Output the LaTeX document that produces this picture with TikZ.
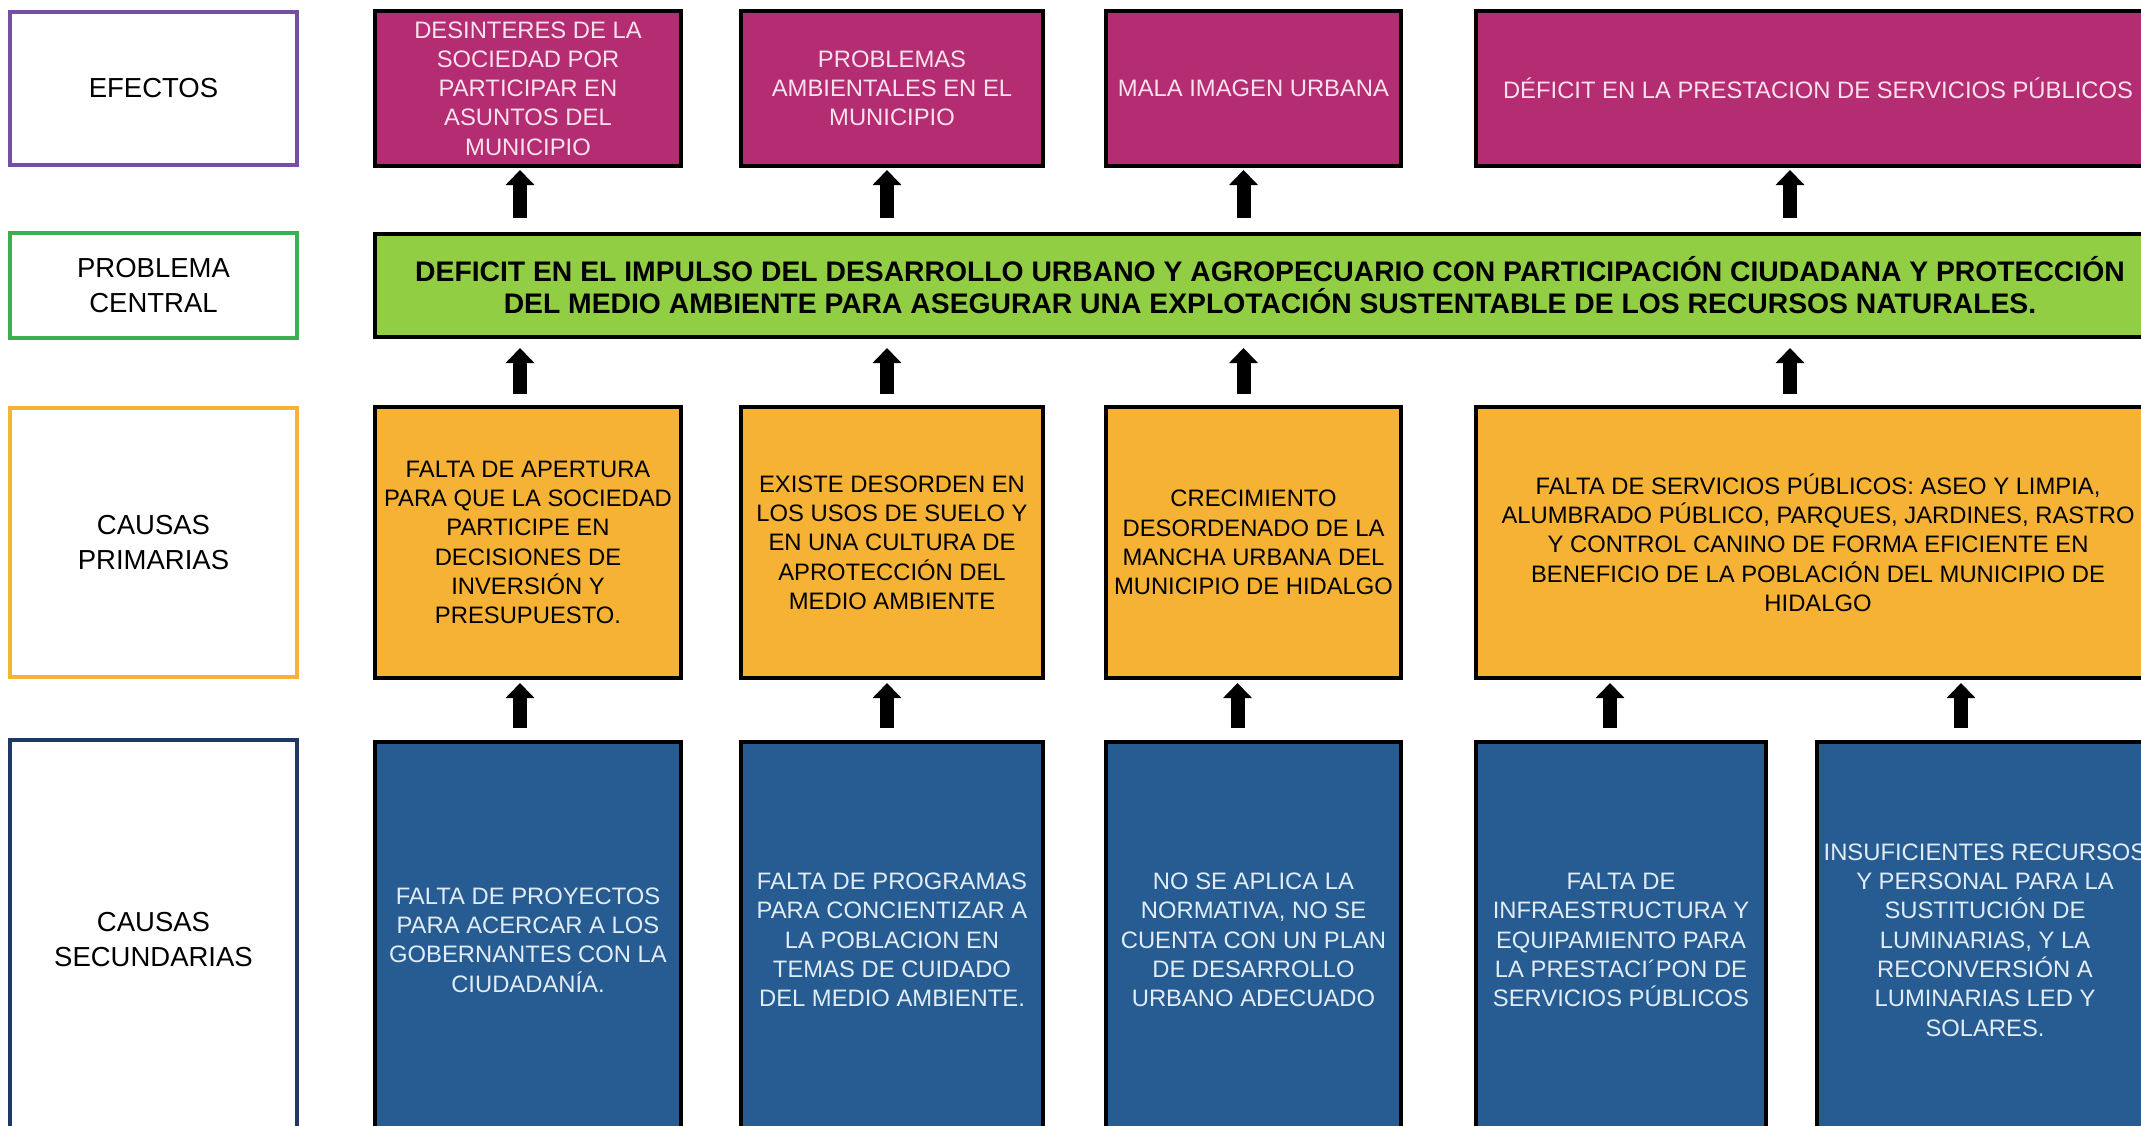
\documentclass[tikz,border=0pt]{standalone}
\usepackage{fontspec}
\setmainfont{Liberation Sans}
\usetikzlibrary{positioning,arrows.meta}
\definecolor{efcol}{RGB}{180,44,114}
\definecolor{eftext}{RGB}{250,226,236}
\definecolor{pccol}{RGB}{146,206,68}
\definecolor{cpcol}{RGB}{246,178,52}
\definecolor{cscol}{RGB}{38,92,146}
\definecolor{cstext}{RGB}{226,236,246}
\definecolor{l_efcol}{RGB}{118,78,164}
\definecolor{l_pccol}{RGB}{60,176,78}
\definecolor{l_cpcol}{RGB}{244,180,54}
\definecolor{l_cscol}{RGB}{30,56,100}

\begin{document}
\begin{tikzpicture}[on grid,inner sep=0pt,
  lbl/.style={draw,line width=4pt,fill=white,minimum width=287pt,align=center,
    font=\fontsize{27.5}{35}\selectfont},
  box/.style={draw=black,line width=4pt,align=center,
    font=\fontsize{23.8}{29.3}\selectfont},
  efbox/.style={box,fill=efcol,text=eftext,minimum height=155pt},
  cpbox/.style={box,fill=cpcol,text=black,minimum height=271pt},
  csbox/.style={box,fill=cscol,text=cstext,minimum height=396pt},
  up/.style={line width=14pt,-{Triangle[width=28pt,length=15pt]}},
  to_ef/.style={shorten <=14pt,shorten >=2pt},
  to_pc/.style={shorten <=11pt,shorten >=9pt},
  to_cp/.style={shorten <=12pt,shorten >=3pt}]
\useasboundingbox[fill=white] (0,0) rectangle (2141pt,-1125pt);
% row labels
\node[lbl,draw=l_efcol,minimum height=153pt] (l_ef) at (153.5pt,-88.5pt) {EFECTOS};
\node[lbl,draw=l_pccol,minimum height=105pt] (l_pc) [below=197pt of l_ef] {PROBLEMA\\CENTRAL};
\node[lbl,draw=l_cpcol,minimum height=269pt] (l_cp) [below=257pt of l_pc] {CAUSAS\\PRIMARIAS};
\node[lbl,draw=l_cscol,minimum height=400pt] (l_cs) [below=397.5pt of l_cp] {CAUSAS\\SECUNDARIAS};
% efectos
\node[efbox,minimum width=306pt] (ef_1) [right=374.5pt of l_ef] {DESINTERES DE LA\\SOCIEDAD POR\\PARTICIPAR EN\\ASUNTOS DEL\\MUNICIPIO};
\node[efbox,minimum width=302pt] (ef_2) [right=364pt of ef_1] {PROBLEMAS\\AMBIENTALES EN EL\\MUNICIPIO};
\node[efbox,minimum width=295pt] (ef_3) [right=361.5pt of ef_2] {MALA IMAGEN URBANA};
\node[efbox,minimum width=684pt] (ef_4) [right=564.5pt of ef_3] {DÉFICIT EN LA PRESTACION DE SERVICIOS PÚBLICOS};
% problema central
\node[box,fill=pccol,minimum width=1790pt,minimum height=103pt,
  font=\bfseries\fontsize{28.3}{32}\selectfont] (pc) [right=1116.5pt of l_pc]
  {DEFICIT EN EL IMPULSO DEL DESARROLLO URBANO Y AGROPECUARIO CON PARTICIPACIÓN CIUDADANA Y PROTECCIÓN\\DEL MEDIO AMBIENTE PARA ASEGURAR UNA EXPLOTACIÓN SUSTENTABLE DE LOS RECURSOS NATURALES.};
% causas primarias
\node[cpbox,minimum width=306pt] (cp_1) [right=374.5pt of l_cp] {FALTA DE APERTURA\\PARA QUE LA SOCIEDAD\\PARTICIPE EN\\DECISIONES DE\\INVERSIÓN Y\\PRESUPUESTO.};
\node[cpbox,minimum width=302pt] (cp_2) [right=364pt of cp_1] {EXISTE DESORDEN EN\\LOS USOS DE SUELO Y\\EN UNA CULTURA DE\\APROTECCIÓN DEL\\MEDIO AMBIENTE};
\node[cpbox,minimum width=295pt] (cp_3) [right=361.5pt of cp_2] {CRECIMIENTO\\DESORDENADO DE LA\\MANCHA URBANA DEL\\MUNICIPIO DE HIDALGO};
\node[cpbox,minimum width=684pt] (cp_4) [right=564.5pt of cp_3] {FALTA DE SERVICIOS PÚBLICOS: ASEO Y LIMPIA,\\ALUMBRADO PÚBLICO, PARQUES, JARDINES, RASTRO\\Y CONTROL CANINO DE FORMA EFICIENTE EN\\BENEFICIO DE LA POBLACIÓN DEL MUNICIPIO DE\\HIDALGO};
% causas secundarias
\node[csbox,minimum width=306pt] (cs_1) [right=374.5pt of l_cs] {FALTA DE PROYECTOS\\PARA ACERCAR A LOS\\GOBERNANTES CON LA\\CIUDADANÍA.};
\node[csbox,minimum width=302pt] (cs_2) [right=364pt of cs_1] {FALTA DE PROGRAMAS\\PARA CONCIENTIZAR A\\LA POBLACION EN\\TEMAS DE CUIDADO\\DEL MEDIO AMBIENTE.};
\node[csbox,minimum width=295pt] (cs_3) [right=361.5pt of cs_2] {NO SE APLICA LA\\NORMATIVA, NO SE\\CUENTA CON UN PLAN\\DE DESARROLLO\\URBANO ADECUADO};
\node[csbox,minimum width=290pt] (cs_4) [right=367.5pt of cs_3] {FALTA DE\\INFRAESTRUCTURA Y\\EQUIPAMIENTO PARA\\LA PRESTACI´PON DE\\SERVICIOS PÚBLICOS};
\node[csbox,minimum width=336pt] (cs_5) [right=364pt of cs_4] {INSUFICIENTES RECURSOS\\Y PERSONAL PARA LA\\SUSTITUCIÓN DE\\LUMINARIAS, Y LA\\RECONVERSIÓN A\\LUMINARIAS LED Y\\SOLARES.};
% flechas
\path[up]
([xshift=-8pt]ef_1.south |- pc.north) edge[to_ef] ([xshift=-8pt]ef_1.south)
([xshift=-5pt]ef_2.south |- pc.north) edge[to_ef] ([xshift=-5pt]ef_2.south)
([xshift=-10pt]ef_3.south |- pc.north) edge[to_ef] ([xshift=-10pt]ef_3.south)
([xshift=-28pt]ef_4.south |- pc.north) edge[to_ef] ([xshift=-28pt]ef_4.south)
([xshift=-8pt]cp_1.north) edge[to_pc] ([xshift=-8pt]cp_1.north |- pc.south)
([xshift=-5pt]cp_2.north) edge[to_pc] ([xshift=-5pt]cp_2.north |- pc.south)
([xshift=-10pt]cp_3.north) edge[to_pc] ([xshift=-10pt]cp_3.north |- pc.south)
([xshift=-28pt]cp_4.north) edge[to_pc] ([xshift=-28pt]cp_4.north |- pc.south)
([xshift=-8pt]cs_1.north) edge[to_cp] ([xshift=-8pt]cp_1.south)
([xshift=-5pt]cs_2.north) edge[to_cp] ([xshift=-5pt]cp_2.south)
([xshift=-16pt]cs_3.north) edge[to_cp] ([xshift=-16pt]cp_3.south)
([xshift=-11pt]cs_4.north) edge[to_cp] ([xshift=-11pt]cs_4.north |- cp_4.south)
([xshift=-24pt]cs_5.north) edge[to_cp] ([xshift=-24pt]cs_5.north |- cp_4.south)
;
\end{tikzpicture}
\end{document}
